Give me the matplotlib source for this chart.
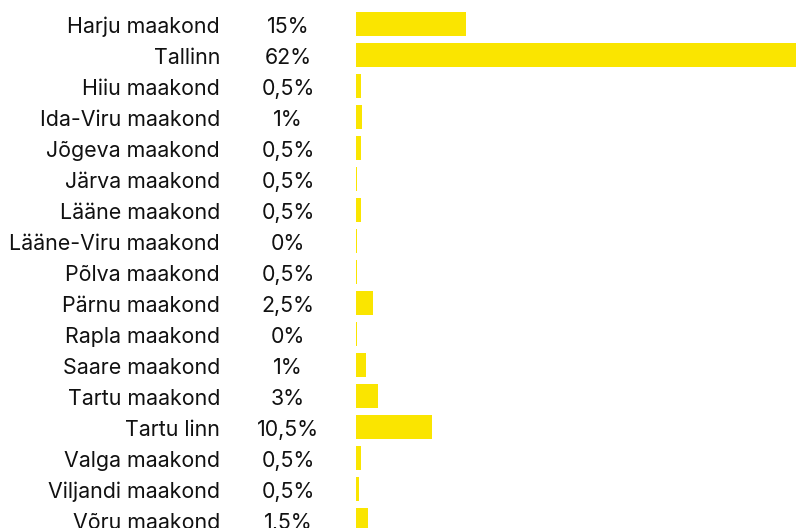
import matplotlib
matplotlib.use("Agg")
import matplotlib.pyplot as plt
from matplotlib.transforms import blended_transform_factory

plt.rcParams['font.family'] = ['Inter', 'DejaVu Sans']

# regions, shown shares and estimated bar lengths (in %)
regions = ["Harju maakond", "Tallinn", "Hiiu maakond", "Ida-Viru maakond",
           "Jõgeva maakond", "Järva maakond", "Lääne maakond", "Lääne-Viru maakond",
           "Põlva maakond", "Pärnu maakond", "Rapla maakond", "Saare maakond",
           "Tartu maakond", "Tartu linn", "Valga maakond", "Viljandi maakond",
           "Võru maakond"]
shares = ["15%", "62%", "0,5%", "1%", "0,5%", "0,5%", "0,5%", "0%", "0,5%",
          "2,5%", "0%", "1%", "3%", "10,5%", "0,5%", "0,5%", "1,5%"]
values = [15, 62, 0.68, 0.86, 0.68, 0.2, 0.68, 0.2, 0.2,
          2.32, 0.2, 1.36, 3.04, 10.3, 0.68, 0.41, 1.6]

fig = plt.figure(figsize=(7.96, 5.28), dpi=100)
ax = fig.add_axes([356 / 796, 0, 440 / 796, 1])

ypos = list(range(len(regions)))
ax.barh(ypos, values, height=0.77, color="#FAE500")
ax.set_xlim(0, 60)
ax.set_ylim((528 - 24) / 31, -24 / 31)
ax.axis("off")

tr = blended_transform_factory(fig.transFigure, ax.transData)
for y, name, s in zip(ypos, regions, shares):
    ax.text(220 / 796, y + 0.3, name, transform=tr, ha="right", va="baseline",
            fontsize=15.4, color="#111111", clip_on=False)
    ax.text(288 / 796, y + 0.3, s, transform=tr, ha="center", va="baseline",
            fontsize=15.4, color="#111111", clip_on=False)

fig.savefig("out.png", dpi=100)
